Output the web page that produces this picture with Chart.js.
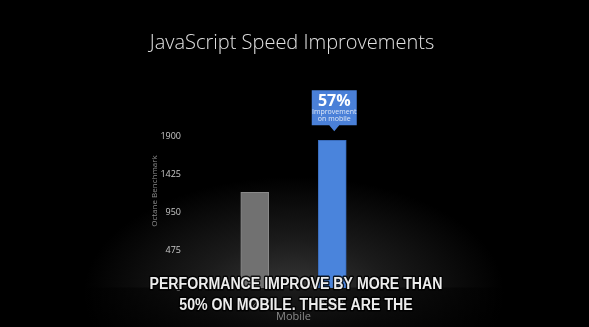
<!DOCTYPE html>
<html>
<head>
<meta charset="utf-8">
<script src="https://cdn.jsdelivr.net/npm/chart.js@4/dist/chart.umd.min.js"></script>
<style>
  html, body { margin: 0; padding: 0; background: #000; }
  #stage {
    position: relative; width: 589px; height: 327px; overflow: hidden;
    background:
      linear-gradient(to bottom, rgba(0,0,0,0) 287px, rgba(0,0,0,0.5) 288px, rgba(0,0,0,0.7) 327px),
      radial-gradient(ellipse 210px 115px at 294px 292px, #383838 0%, #1b1b1b 45%, #000 100%);
  }
  canvas { display: block; }
</style>
</head>
<body>
<div id="stage"><canvas id="chart" width="589" height="327"></canvas></div>
<script>
// values
const categories = ['I/O 2012', 'NOW'];
const scores = [1196, 1846];
const yTicks = [0, 475, 950, 1425, 1900];
const chartTitle = 'JavaScript Speed Improvements';
const yTitle = 'Octane Benchmark';
const xTitle = 'Mobile';
const calloutLines = ['57%', 'Improvement', 'on mobile'];
const subtitleLines = ['PERFORMANCE IMPROVE BY MORE THAN', '50% ON MOBILE. THESE ARE THE'];

// title, y title, callout and subtitle text drawn over the chart
const overlay = {
  id: 'overlay',
  afterDatasetsDraw(chart) {
    const c = chart.ctx;
    c.save();
    c.textAlign = 'center';
    c.textBaseline = 'middle';

    c.fillStyle = '#e0e0e0';
    c.font = '300 20px "Open Sans"';
    c.fillText(chartTitle, 292, 43);

    c.save();
    c.translate(155, 191);
    c.rotate(-Math.PI / 2);
    c.fillStyle = '#8a8a8a';
    c.font = '8px "Open Sans"';
    c.fillText(yTitle, 0, 0);
    c.restore();

    // callout over the NOW bar
    const bar = chart.getDatasetMeta(0).data[1];
    const cx = bar.x + 2, tip = bar.y - 9;
    const w = 45, h = 35, bottom = tip - 6, top = bottom - h;
    c.fillStyle = '#4a80d8';
    c.beginPath();
    c.moveTo(cx - w / 2, top);
    c.lineTo(cx + w / 2, top);
    c.lineTo(cx + w / 2, bottom);
    c.lineTo(cx + 5, bottom);
    c.lineTo(cx, tip);
    c.lineTo(cx - 5, bottom);
    c.lineTo(cx - w / 2, bottom);
    c.closePath();
    c.fill();
    c.fillStyle = '#ffffff';
    c.font = 'bold 16px "Open Sans"';
    c.fillText(calloutLines[0], cx, top + 11);
    c.fillStyle = '#dde7f8';
    c.font = '7px "Open Sans"';
    c.fillText(calloutLines[1], cx, top + 22);
    c.fillText(calloutLines[2], cx, top + 29);
    c.restore();
  },
  afterDraw(chart) {
    const c = chart.ctx;
    c.save();
    c.font = 'bold 16px "Liberation Sans"';
    const sx = 293 / c.measureText(subtitleLines[0]).width;
    c.textAlign = 'center';
    c.textBaseline = 'middle';
    c.lineJoin = 'round';
    [285, 306].forEach((y, i) => {
      c.save();
      c.translate(296, y);
      c.scale(sx, 1);
      c.strokeStyle = 'rgba(0,0,0,0.85)';
      c.lineWidth = 3;
      c.strokeText(subtitleLines[i], 0, 0);
      c.fillStyle = '#ededed';
      c.fillText(subtitleLines[i], 0, 0);
      c.restore();
    });
    c.restore();
  }
};

new Chart(document.getElementById('chart'), {
  type: 'bar',
  data: {
    labels: categories,
    datasets: [{
      data: scores,
      backgroundColor: ['#717171', '#4a84dc'],
      borderColor: ['#8a8a8a', '#3a6cbc'],
      borderWidth: 1,
      borderSkipped: 'bottom',
      barThickness: 28
    }]
  },
  options: {
    responsive: false,
    animation: false,
    layout: { padding: { left: 150, right: 218, top: 136, bottom: 0 } },
    plugins: { legend: { display: false }, tooltip: { enabled: false }, title: { display: false } },
    scales: {
      x: {
        grid: { display: false },
        border: { display: false },
        ticks: { color: '#9a9a9a', font: { family: 'Open Sans', size: 9 }, padding: 3 },
        title: { display: true, text: xTitle, color: '#8a8a8a', font: { family: 'Open Sans', size: 11 }, padding: { top: 0, bottom: 4 } },
        afterFit(s) { s.height = 39; }
      },
      y: {
        min: 0,
        max: 1900,
        grid: { display: false },
        border: { display: false },
        ticks: {
          color: '#c8c8c8', font: { family: 'Open Sans', size: 9 }, padding: 27,
          callback: v => String(v)
        },
        afterBuildTicks(s) { s.ticks = yTicks.map(v => ({ value: v })); },
        afterFit(s) { s.width = 66; }
      }
    }
  },
  plugins: [overlay]
});
</script>
</body>
</html>
